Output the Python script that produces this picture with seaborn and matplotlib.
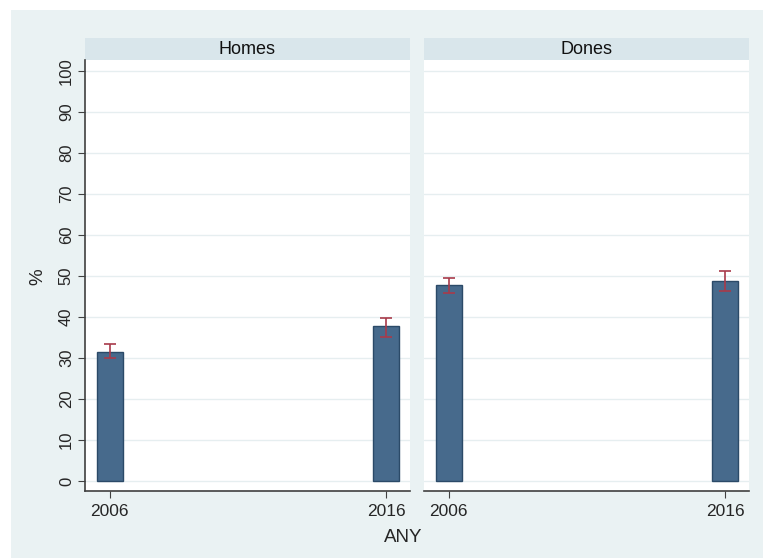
import pandas as pd
import matplotlib
matplotlib.use("Agg")
import matplotlib.pyplot as plt
import seaborn as sns
from matplotlib.patches import Rectangle

panels = ["Homes", "Dones"]
years = ["2006", "2016"]
homes_pct = [31.4, 37.7]
homes_lo = [30.0, 35.2]
homes_hi = [33.3, 39.8]
dones_pct = [47.7, 48.9]
dones_lo = [45.9, 46.4]
dones_hi = [49.4, 51.2]

df = pd.DataFrame({
    "panel": [panels[0]] * 2 + [panels[1]] * 2,
    "year": years * 2,
    "pct": homes_pct + dones_pct,
    "lo": homes_lo + dones_lo,
    "hi": homes_hi + dones_hi,
})

sns.set_style("white")
plt.rcParams["font.family"] = ["Liberation Sans", "DejaVu Sans"]

bg = "#eaf2f3"
strip = "#d9e6eb"
bar_col = "#476a8c"
edge_col = "#2b4a68"
err_col = "#a83a4a"
axis_col = "#404040"

fig = plt.figure(figsize=(7.63, 5.58), dpi=100)
fig.patch.set_facecolor("white")
fig.patches.append(Rectangle((11 / 763, 0), 1, 1 - 10 / 558, transform=fig.transFigure,
                             facecolor=bg, edgecolor="none", zorder=-10))

H = 431 / 558
B = 1 - 491 / 558
W = 325 / 763
lefts = [85 / 763, 424 / 763]

for i, name in enumerate(panels):
    ax = fig.add_axes([lefts[i], B, W, H])
    sub = df[df["panel"] == name]
    sns.barplot(data=sub, x="year", y="pct", order=years, ax=ax, color=bar_col,
                width=0.094, errorbar=None, saturation=1, edgecolor=edge_col, linewidth=1)
    ax.errorbar(sub["year"], sub["pct"],
                yerr=[sub["pct"] - sub["lo"], sub["hi"] - sub["pct"]],
                fmt="none", ecolor=err_col, elinewidth=1.2, capsize=4, capthick=1.2, zorder=5)
    ax.set_xlim(-0.09, 1.087)
    ax.set_ylim(-2.44, 102.7)
    ax.set_yticks(range(0, 101, 10))
    ax.grid(axis="y", color="#e6eef0", linewidth=1)
    ax.set_axisbelow(True)
    ax.set_facecolor("white")
    for s in ["top", "right"]:
        ax.spines[s].set_visible(False)
    ax.spines["bottom"].set_color(axis_col)
    ax.spines["left"].set_color(axis_col)
    ax.spines["bottom"].set_linewidth(1.2)
    ax.spines["left"].set_linewidth(1.2)
    ax.tick_params(axis="x", length=5, color=axis_col, labelsize=12.5, pad=4, bottom=True)
    if i == 0:
        ax.tick_params(axis="y", length=5, color=axis_col, labelsize=12, left=True, pad=3)
        for t in ax.get_yticklabels():
            t.set_rotation(90)
            t.set_va("center")
    else:
        ax.spines["left"].set_visible(False)
        ax.tick_params(axis="y", left=False, labelleft=False)
    ax.set_xlabel("")
    ax.set_ylabel("")
    ax.add_patch(Rectangle((0, 1), 1, 22 / 431, transform=ax.transAxes, facecolor=strip,
                           edgecolor="none", clip_on=False))
    ax.text(0.5, 1 + 11 / 431, name, transform=ax.transAxes, ha="center", va="center",
            fontsize=13, color="#111111")

fig.text(38 / 763, 1 - 277 / 558, "%", rotation=90, ha="center", va="center", fontsize=13.5)
fig.text(403 / 763, 1 - 537 / 558, "ANY", ha="center", va="center", fontsize=13.5)

fig.savefig("out.png", dpi=100, facecolor=fig.get_facecolor())
